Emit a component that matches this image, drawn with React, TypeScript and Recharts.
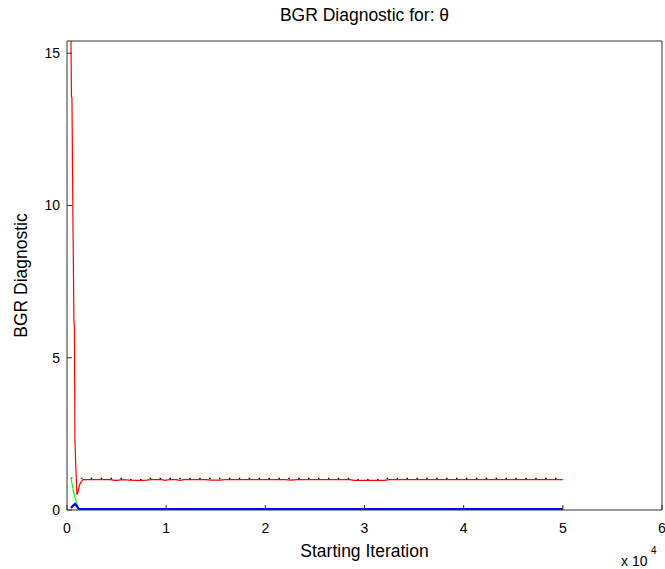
import React from 'react';
import { LineChart, Line, XAxis, YAxis, Label } from 'recharts';

const xTicks = [0, 10000, 20000, 30000, 40000, 50000, 60000];
const yTicks = [0, 5, 10, 15];

const redIter = [400, 450, 500, 600, 700, 750, 800, 900, 1000, 1100, 1300, 1600, 2000, 3000, 4000, 4400, 4800, 5100, 5500, 6300, 7000, 7500, 8000, 8500, 9500, 9900, 10300, 11000, 11400, 11800, 13000, 14000, 14600, 15400, 16000, 18000, 20000, 22000, 22600, 23200, 24000, 26000, 28500, 29000, 30000, 31000, 32000, 32500, 34000, 38000, 42000, 46000, 50000];
const redVal = [15.4, 13.6, 13.5, 9.5, 6.2, 6.0, 2.3, 1.3, 0.5, 0.6, 0.85, 1.0, 1.0, 1.0, 1.0, 1.0, 0.97, 0.97, 1.0, 0.98, 0.97, 0.97, 0.98, 1.0, 1.0, 0.97, 1.0, 1.0, 0.97, 1.0, 1.0, 1.0, 0.98, 0.98, 1.0, 1.0, 1.0, 1.0, 0.98, 1.0, 1.0, 1.0, 1.0, 0.97, 0.97, 0.97, 0.97, 1.0, 1.0, 1.0, 1.0, 1.0, 1.0];

const blackIter = [400, 1000, 1600, 6000, 6300, 8000, 8300, 28800, 29000, 31500, 31800, 50000];
const blackVal = [1.05, 1.05, 1.04, 1.04, 1.0, 1.0, 1.04, 1.04, 1.0, 1.0, 1.04, 1.04];

const greenIter = [400, 600, 800, 1000, 1200, 1600, 50000];
const greenVal = [1.05, 0.7, 0.4, 0.2, 0.03, 0.01, 0.01];

const blueIter = [400, 800, 1000, 1200, 1600, 50000];
const blueVal = [0.07, 0.2, 0.12, 0.03, 0.03, 0.03];

const zip = (xs: number[], ys: number[]) => xs.map((x, i) => ({ x, y: ys[i] }));

const redData = zip(redIter, redVal);
const blackData = zip(blackIter, blackVal);
const greenData = zip(greenIter, greenVal);
const blueData = zip(blueIter, blueVal);

const FONT = '"Liberation Sans", Arial, sans-serif';
const AXIS = '#333';
const LABEL_SIZE = 17.5;

export default function App() {
  return (
    <div style={{ position: 'absolute', left: 0, top: 0, width: 665, height: 569, background: '#fff', overflow: 'hidden' }}>
      <LineChart width={665} height={569} margin={{ top: 40, right: 2, bottom: 0, left: 0 }}>
        <XAxis
          dataKey="x"
          type="number"
          domain={[0, 60000]}
          ticks={xTicks}
          interval={0}
          allowDataOverflow
          height={59}
          tickSize={-5}
          tickMargin={18}
          stroke={AXIS}
          tick={{ fill: '#000', fontSize: 14, fontFamily: FONT }}
          tickFormatter={(v: number) => String(v / 10000)}
        >
          <Label
            content={(props: any) => {
              const vb = props.viewBox;
              const cx = vb.x + vb.width / 2;
              return (
                <g fontFamily={FONT} fill="#000">
                  <text x={cx} y={vb.y + 47} textAnchor="middle" fontSize={LABEL_SIZE}>Starting Iteration</text>
                  <text x={vb.x + vb.width - 41} y={vb.y + 56} fontSize={14}>x 10</text>
                  <text x={vb.x + vb.width - 11} y={vb.y + 44} fontSize={10}>4</text>
                </g>
              );
            }}
          />
        </XAxis>
        <XAxis
          xAxisId="top"
          dataKey="x"
          type="number"
          orientation="top"
          domain={[0, 60000]}
          ticks={xTicks}
          interval={0}
          allowDataOverflow
          height={1}
          tickSize={-5}
          tick={false}
          stroke={AXIS}
        >
          <Label
            content={(props: any) => {
              const vb = props.viewBox;
              return (
                <text x={vb.x + vb.width / 2} y={vb.y - 19} textAnchor="middle" fontSize={LABEL_SIZE} fontFamily={FONT} fill="#000">
                  BGR Diagnostic for: θ
                </text>
              );
            }}
          />
        </XAxis>
        <YAxis
          type="number"
          domain={[0, 15.4]}
          ticks={yTicks}
          interval={0}
          allowDataOverflow
          width={67}
          tickSize={-5}
          tickMargin={12}
          stroke={AXIS}
          tick={{ fill: '#000', fontSize: 14, fontFamily: FONT }}
        >
          <Label
            content={(props: any) => {
              const vb = props.viewBox;
              const cy = vb.y + vb.height / 2;
              return (
                <text x={21} y={cy} transform={`rotate(-90 21 ${cy})`} textAnchor="middle" dominantBaseline="central" fontSize={LABEL_SIZE} fontFamily={FONT} fill="#000">
                  BGR Diagnostic
                </text>
              );
            }}
          />
        </YAxis>
        <YAxis
          yAxisId="right"
          orientation="right"
          type="number"
          domain={[0, 15.4]}
          ticks={yTicks}
          interval={0}
          allowDataOverflow
          width={1}
          tickSize={-5}
          tick={false}
          stroke={AXIS}
        />
        <Line data={blackData} dataKey="y" stroke="#000" strokeWidth={1.2} strokeDasharray="1.5 8.4" dot={false} isAnimationActive={false} type="linear" />
        <Line data={redData} dataKey="y" stroke="#ff0000" strokeWidth={1.2} dot={false} isAnimationActive={false} type="linear" />
        <Line data={greenData} dataKey="y" stroke="#00ff00" strokeWidth={1.2} dot={false} isAnimationActive={false} type="linear" />
        <Line data={blueData} dataKey="y" stroke="#0000ff" strokeWidth={2.2} dot={false} isAnimationActive={false} type="linear" />
      </LineChart>
    </div>
  );
}
